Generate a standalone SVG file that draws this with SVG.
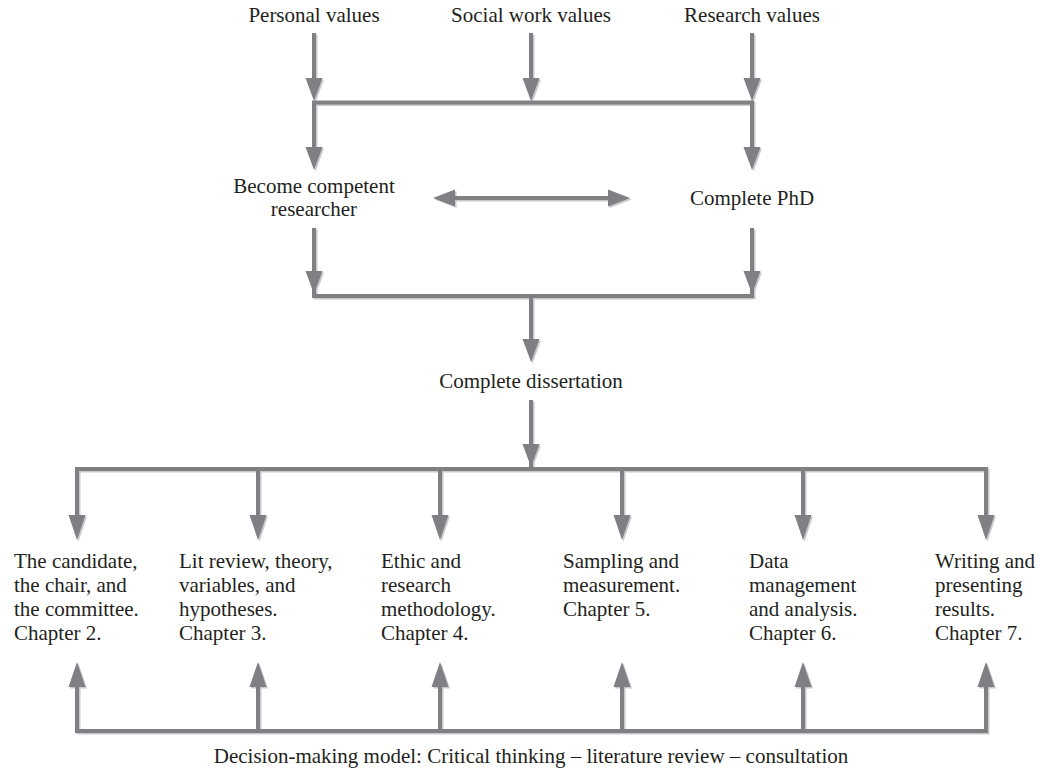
<svg xmlns="http://www.w3.org/2000/svg" xmlns:xlink="http://www.w3.org/1999/xlink" width="1042" height="769" viewBox="0 0 1042 769">
<style>
  text { font-family: "Liberation Serif", "Times New Roman", serif; font-size: 21px; fill: #231f20; }
  .c { text-anchor: middle; }
  .ln { fill: none; stroke-width: 4; stroke-linejoin: miter; stroke-linecap: butt; }
  .hd { stroke: none; }
</style>
<defs>
  <g id="links">
    <!-- top inputs -->
    <path class="ln" d="M314 33 V90 M531 33 V90 M752 33 V90"/>
    <polygon class="hd" points="305.5,78 322.5,78 314,101"/>
    <polygon class="hd" points="522.5,78 539.5,78 531,101"/>
    <polygon class="hd" points="743.5,78 760.5,78 752,101"/>
    <!-- first bar and outputs -->
    <path class="ln" d="M314 160 V102.5 H752 V160"/>
    <polygon class="hd" points="305.5,147 322.5,147 314,170"/>
    <polygon class="hd" points="743.5,147 760.5,147 752,170"/>
    <!-- double arrow -->
    <path class="ln" d="M450 198 H613"/>
    <polygon class="hd" points="455,189.5 455,206.5 433,198"/>
    <polygon class="hd" points="608,189.5 608,206.5 630,198"/>
    <!-- converge to dissertation -->
    <path class="ln" d="M314 228 V296 H752 V228"/>
    <polygon class="hd" points="305.5,271 322.5,271 314,294"/>
    <polygon class="hd" points="743.5,271 760.5,271 752,294"/>
    <path class="ln" d="M531 296 V352"/>
    <polygon class="hd" points="522.5,339 539.5,339 531,362"/>
    <path class="ln" d="M531 400 V469"/>
    <polygon class="hd" points="522.5,444 539.5,444 531,467"/>
    <!-- distribution bar -->
    <path class="ln" d="M77 530 V469 H986 V530"/>
    <path class="ln" d="M258 469 V530 M440 469 V530 M622 469 V530 M803 469 V530"/>
    <polygon class="hd" points="68.5,515 85.5,515 77,540"/>
    <polygon class="hd" points="249.5,515 266.5,515 258,540"/>
    <polygon class="hd" points="431.5,515 448.5,515 440,540"/>
    <polygon class="hd" points="613.5,515 630.5,515 622,540"/>
    <polygon class="hd" points="794.5,515 811.5,515 803,540"/>
    <polygon class="hd" points="977.5,515 994.5,515 986,540"/>
    <!-- feedback bar -->
    <path class="ln" d="M77 672 V731 H986 V672"/>
    <path class="ln" d="M258 731 V672 M440 731 V672 M622 731 V672 M803 731 V672"/>
    <polygon class="hd" points="68.5,687 85.5,687 77,662"/>
    <polygon class="hd" points="249.5,687 266.5,687 258,662"/>
    <polygon class="hd" points="431.5,687 448.5,687 440,662"/>
    <polygon class="hd" points="613.5,687 630.5,687 622,662"/>
    <polygon class="hd" points="794.5,687 811.5,687 803,662"/>
    <polygon class="hd" points="977.5,687 994.5,687 986,662"/>
  </g>
</defs>
<rect width="1042" height="769" fill="#ffffff"/>
<g id="connectors">
  <use xlink:href="#links" href="#links" transform="translate(1.5,1.5)" stroke="#c9c9cc" fill="#c9c9cc"/>
  <use xlink:href="#links" href="#links" stroke="#7f7f84" fill="#7f7f84"/>
</g>
<g id="personal-values"><text class="c" x="314" y="22">Personal values</text></g>
<g id="social-work-values"><text class="c" x="531" y="22">Social work values</text></g>
<g id="research-values"><text class="c" x="752" y="22">Research values</text></g>
<g id="become-competent"><text class="c" x="314" y="193">Become competent</text><text class="c" x="314" y="216">researcher</text></g>
<g id="complete-phd"><text class="c" x="752" y="205">Complete PhD</text></g>
<g id="complete-dissertation"><text class="c" x="531" y="388">Complete dissertation</text></g>
<g id="chapter-2"><text x="14" y="568">The candidate,</text><text x="14" y="592">the chair, and</text><text x="14" y="616">the committee.</text><text x="14" y="640">Chapter 2.</text></g>
<g id="chapter-3"><text x="179" y="568">Lit review, theory,</text><text x="179" y="592">variables, and</text><text x="179" y="616">hypotheses.</text><text x="179" y="640">Chapter 3.</text></g>
<g id="chapter-4"><text x="381" y="568">Ethic and</text><text x="381" y="592">research</text><text x="381" y="616">methodology.</text><text x="381" y="640">Chapter 4.</text></g>
<g id="chapter-5"><text x="563" y="568">Sampling and</text><text x="563" y="592">measurement.</text><text x="563" y="616">Chapter 5.</text></g>
<g id="chapter-6"><text x="749" y="568">Data</text><text x="749" y="592">management</text><text x="749" y="616">and analysis.</text><text x="749" y="640">Chapter 6.</text></g>
<g id="chapter-7"><text x="935" y="568">Writing and</text><text x="935" y="592">presenting</text><text x="935" y="616">results.</text><text x="935" y="640">Chapter 7.</text></g>
<g id="decision-model"><text class="c" x="531" y="763">Decision-making model: Critical thinking – literature review – consultation</text></g>
</svg>
